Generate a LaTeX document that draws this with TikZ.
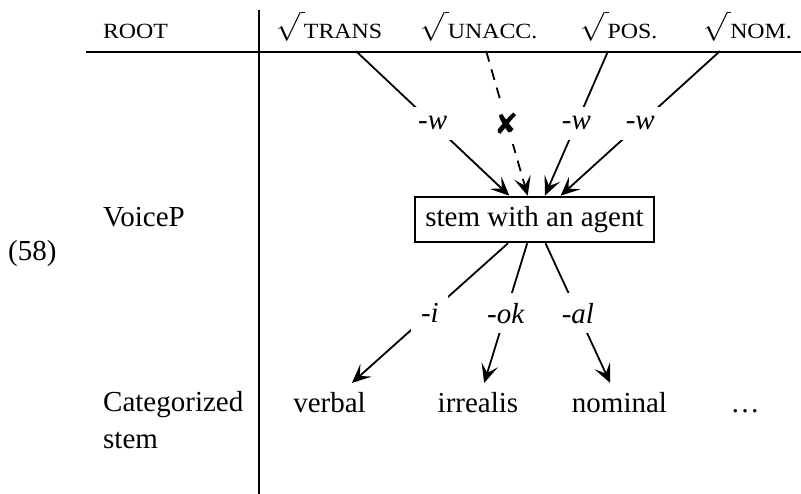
\RequirePackage{fix-cm}
\documentclass[tikz,border=0pt]{standalone}
\usepackage{fontspec}
\setmainfont{Liberation Serif}
\newfontfamily\scfont[FakeStretch=1.1]{Liberation Serif}
\newfontfamily\symfont{DejaVu Sans}
\usetikzlibrary{arrows.meta}
\newcommand{\smc}[1]{{\scfont\fontsize{21.7}{26}\selectfont #1}}
\newcommand{\rt}[1]{\raisebox{11.5pt}{$\sqrt{\kern4pt}$}\kern-1pt\smc{#1}}
\tikzset{
  lbl/.style={inner sep=9.7pt},
  hdr/.style={inner sep=9.7pt, anchor=base},
  stembox/.style={draw, line width=1.8pt, inner sep=9.7pt, inner xsep=10.5pt},
  morph/.style={fill=white, inner sep=9.7pt, font=\fontsize{29}{36}\selectfont\itshape},
  edge/.style={line width=1.8pt, -{Stealth[length=19pt,width=17pt,inset=8.5pt]}},
  rule/.style={line width=2pt}
}
\begin{document}
\begin{tikzpicture}[x=1pt,y=-1pt,font=\fontsize{29}{36}\selectfont]
\useasboundingbox (0,0) rectangle (801,494);
% table rules
\draw[rule] (86,52) -- (801,52);
\draw[rule] (259,10) -- (259,494);
% example number
\node[lbl, anchor=base west] (num) at (-1.7,261) {(58)};
% row labels
\node[hdr] (root) at (135.5,39) {\smc{ROOT}};
\node[lbl, anchor=base west] (voice) at (93.3,227) {VoiceP};
\node[lbl, anchor=base west, align=left] (cat) at (93.3,448) {Categorized\\stem};
% roots
\node[hdr] (trans) at (329.5,39) {\rt{TRANS}};
\node[hdr] (unacc) at (479,39) {\rt{UNACC.}};
\node[hdr] (pos) at (619,39) {\rt{POS.}};
\node[hdr] (nom) at (747.5,39) {\rt{NOM.}};
% stem
\node[stembox] (stem) at (534.5,219.5) {stem with an agent};
% categorized stems
\node[hdr] (verbal) at (329.5,413) {verbal};
\node[hdr] (irr) at (478,413) {irrealis};
\node[hdr] (nomin) at (619.5,413) {nominal};
\node[hdr] (dots) at (745,413) {\dots};
% edges from roots
\draw[edge] (trans) -- node[morph] {-w} (stem);
\draw[edge, dash pattern=on 11pt off 8pt] (unacc) -- node[fill=white, inner sep=9.7pt] {\symfont\fontsize{29}{30}\selectfont ✘} (stem);
\draw[edge] (pos) -- node[morph] {-w} (stem);
\draw[edge] (nom) -- node[morph] {-w} (stem);
% edges to categorized stems
\draw[edge] (stem) -- node[morph] {-i} (verbal);
\draw[edge] (stem) -- node[morph] {-ok} (irr);
\draw[edge] (stem) -- node[morph] {-al} (nomin);
\end{tikzpicture}
\end{document}
